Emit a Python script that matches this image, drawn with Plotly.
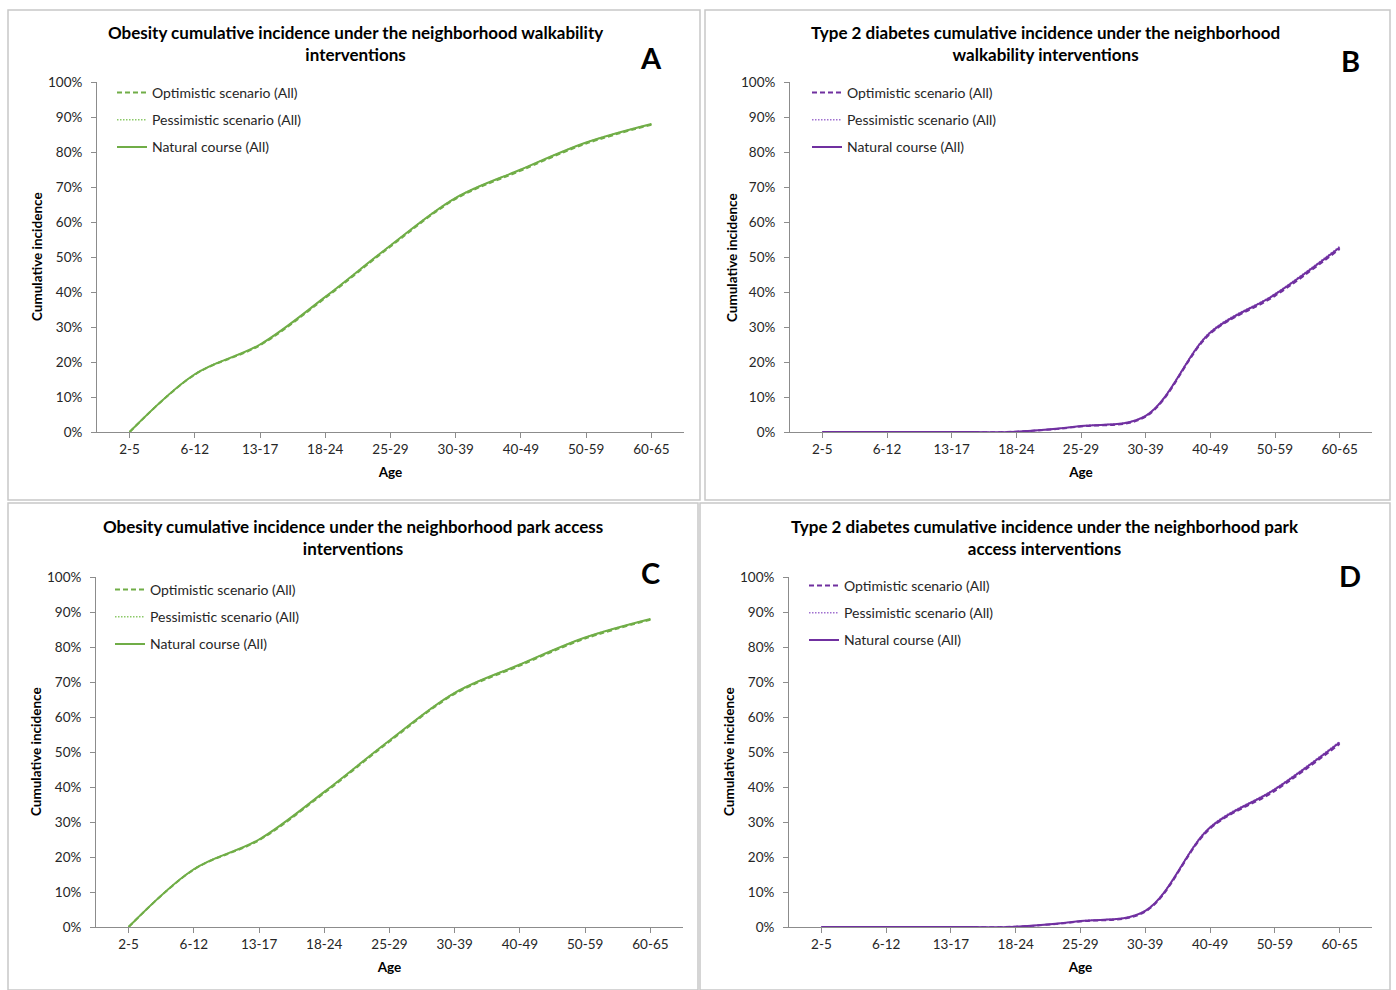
import plotly.graph_objects as go

ages = ["2-5", "6-12", "13-17", "18-24", "25-29", "30-39", "40-49", "50-59", "60-65"]

obesity_natural = [0.0, 0.165, 0.250, 0.386, 0.533, 0.669, 0.750, 0.827, 0.880]
obesity_optimistic = [0.0, 0.164, 0.248, 0.383, 0.530, 0.666, 0.747, 0.824, 0.878]
obesity_pessimistic = [0.0, 0.165, 0.250, 0.386, 0.533, 0.669, 0.750, 0.827, 0.880]

diabetes_natural = [0.0, 0.0, 0.0, 0.001, 0.017, 0.046, 0.284, 0.393, 0.527]
diabetes_optimistic = [0.0, 0.0, 0.0, 0.001, 0.016, 0.044, 0.281, 0.389, 0.523]
diabetes_pessimistic = [0.0, 0.0, 0.0, 0.001, 0.017, 0.047, 0.286, 0.395, 0.530]

series_names = ["Optimistic scenario (All)", "Pessimistic scenario (All)", "Natural course (All)"]

titles = [
    "Obesity cumulative incidence under the neighborhood walkability<br>interventions",
    "Type 2 diabetes cumulative incidence under the neighborhood<br>walkability interventions",
    "Obesity cumulative incidence under the neighborhood park access<br>interventions",
    "Type 2 diabetes cumulative incidence under the neighborhood park<br>access interventions",
]
letters = ["A", "B", "C", "D"]

W, H = 1396, 990
FONT = "Lato"
GREEN = "#70AD47"
GREEN_LIGHT = "#8CC968"
PURPLE = "#7030A0"
PURPLE_LIGHT = "#A070D0"

# observed page mapping: rendered_y = 8 + 0.984 * paper_y
Y_OFF, Y_SPAN = 8.0, 974.0

def px(x):
    return x / W

def py(y):
    return 1 - (y - Y_OFF) / Y_SPAN

panels = [
    dict(box=(8, 10, 700, 500), xa=(97, 684), ya=(432, 82), title=(355, 43), letter=(651, 57), legend=(112, 77), ytitle=37),
    dict(box=(705, 10, 1390, 500), xa=(790, 1372), ya=(432, 82), title=(1045, 43), letter=(1350, 60), legend=(807, 77), ytitle=732),
    dict(box=(8, 503, 698, 990), xa=(96, 683), ya=(927, 577), title=(353, 537), letter=(650, 572), legend=(110, 574), ytitle=36),
    dict(box=(700, 503, 1390, 990), xa=(789, 1372), ya=(927, 577), title=(1045, 537), letter=(1350, 575), legend=(804, 570), ytitle=729),
]

data_sets = [
    (obesity_optimistic, obesity_pessimistic, obesity_natural, GREEN, GREEN_LIGHT),
    (diabetes_optimistic, diabetes_pessimistic, diabetes_natural, PURPLE, PURPLE_LIGHT),
    (obesity_optimistic, obesity_pessimistic, obesity_natural, GREEN, GREEN_LIGHT),
    (diabetes_optimistic, diabetes_pessimistic, diabetes_natural, PURPLE, PURPLE_LIGHT),
]

fig = go.Figure()
layout = dict(
    width=W, height=H, margin=dict(l=0, r=0, t=0, b=0),
    paper_bgcolor="white", plot_bgcolor="white",
    font=dict(family=FONT, size=13, color="#262626"),
    shapes=[], annotations=[],
)

for i, (p, ds) in enumerate(zip(panels, data_sets)):
    n = i + 1
    xname = "x" if n == 1 else f"x{n}"
    yname = "y" if n == 1 else f"y{n}"
    lname = "legend" if n == 1 else f"legend{n}"
    opt, pes, nat, col, col_light = ds
    styles = [
        (opt, dict(color=col, width=2, dash="5px,3px")),
        (pes, dict(color=col_light, width=1.5, dash="1.5px,1.5px")),
        (nat, dict(color=col, width=2, dash="solid")),
    ]
    for k in range(3):
        vals, line = styles[k]
        line = dict(line, shape="spline", smoothing=1.0)
        fig.add_trace(go.Scatter(
            x=ages, y=vals, mode="lines", name=series_names[k],
            line=line, xaxis=xname, yaxis=yname, legend=lname,
            legendgroup=f"g{n}_{k}",
            showlegend=True, hoverinfo="skip",
        ))
    xa_key = "xaxis" if n == 1 else f"xaxis{n}"
    ya_key = "yaxis" if n == 1 else f"yaxis{n}"
    layout[xa_key] = dict(
        domain=[px(p["xa"][0]), px(p["xa"][1])], anchor=yname,
        type="category", categoryorder="array", categoryarray=ages,
        range=[-0.5, 8.5], showgrid=False, zeroline=False,
        showline=True, linecolor="#8C8C8C", linewidth=1,
        ticks="outside", ticklen=5, tickcolor="#8C8C8C",
        tickfont=dict(family=FONT, size=13.5, color="#262626"),
        title=dict(text="<b>Age</b>", font=dict(family=FONT, size=13.5, color="#000000"), standoff=11),
    )
    layout[ya_key] = dict(
        domain=[py(p["ya"][0]), py(p["ya"][1])], anchor=xname,
        range=[0, 1], tickvals=[j / 10 for j in range(11)], tickformat=".0%",
        showgrid=False, zeroline=False,
        showline=True, linecolor="#8C8C8C", linewidth=1,
        ticks="outside", ticklen=5, tickcolor="#8C8C8C",
        ticklabelstandoff=6,
        tickfont=dict(family=FONT, size=13.5, color="#262626"),
    )
    layout[lname] = dict(
        x=px(p["legend"][0]), y=py(p["legend"][1]), xanchor="left", yanchor="top",
        bgcolor="rgba(0,0,0,0)", font=dict(family=FONT, size=14, color="#262626"),
        tracegroupgap=6, traceorder="grouped", itemwidth=30,
    )
    bx0, by0, bx1, by1 = p["box"]
    layout["shapes"].append(dict(
        type="rect", xref="paper", yref="paper",
        x0=px(bx0), x1=px(bx1), y0=py(by1), y1=py(by0),
        line=dict(color="#C8C8C8", width=1.5), fillcolor="rgba(0,0,0,0)",
    ))
    layout["annotations"].append(dict(
        text=f"<b>{titles[i]}</b>", xref="paper", yref="paper",
        x=px(p["title"][0]), y=py(p["title"][1]), xanchor="center", yanchor="middle",
        showarrow=False, font=dict(family=FONT, size=17, color="#000000"), align="center",
    ))
    layout["annotations"].append(dict(
        text=f"<b>{letters[i]}</b>", xref="paper", yref="paper",
        x=px(p["letter"][0]), y=py(p["letter"][1]), xanchor="center", yanchor="middle",
        showarrow=False, font=dict(family=FONT, size=29, color="#000000"),
    ))
    ymid = (p["ya"][0] + p["ya"][1]) / 2
    layout["annotations"].append(dict(
        text="<b>Cumulative incidence</b>", xref="paper", yref="paper",
        x=px(p["ytitle"]), y=py(ymid), xanchor="center", yanchor="middle",
        textangle=-90, showarrow=False, font=dict(family=FONT, size=13.5, color="#000000"),
    ))

fig.update_layout(**layout)
fig.write_html(
    "out.html",
    config={"displayModeBar": False},
    post_script="document.body.style.margin='0';document.body.style.overflow='hidden';",
)
